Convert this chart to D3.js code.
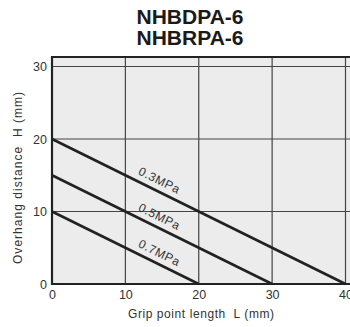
<!DOCTYPE html>
<html><head><meta charset="utf-8">
<script src="https://cdn.jsdelivr.net/npm/d3@7"></script>
<style>body{margin:0;background:#fff}svg{display:block}text{white-space:pre}</style>
</head><body>
<script>
const titles = ["NHBDPA-6", "NHBRPA-6"];
const xTicks = [0, 10, 20, 30, 40];
const yTicks = [0, 10, 20, 30];
const series = [
  {name: "0.3MPa", points: [[0, 20], [40, 0]]},
  {name: "0.5MPa", points: [[0, 15], [30, 0]]},
  {name: "0.7MPa", points: [[0, 10], [20, 0]]}
];
const labelX = 14.0;
const xTitle = "Grip point length  L (mm)";
const yTitle = "Overhang distance  H (mm)";

const W = 350, H = 327;
const svg = d3.select("body").append("svg").attr("width", W).attr("height", H);
const font = "'Liberation Sans', Arial, Helvetica, sans-serif";

const x = d3.scaleLinear().domain([0, 40]).range([52, 345.5]);
const y = d3.scaleLinear().domain([0, 30]).range([284, 66.5]);
const xMax = x.invert(360), yMax = y.invert(57);

// titles
svg.selectAll("text.title").data(titles).enter().append("text")
  .attr("x", 190).attr("y", (d, i) => 24 + i * 21)
  .attr("text-anchor", "middle").attr("font-family", font)
  .attr("font-weight", "bold").attr("font-size", 21).attr("fill", "#1a1a1a")
  .text(d => d);

// background
svg.append("rect").attr("x", x(0)).attr("y", y(yMax))
  .attr("width", x(xMax) - x(0)).attr("height", y(0) - y(yMax)).attr("fill", "#ececec");

// grid
svg.selectAll("line.vg").data(xTicks.filter(d => d > 0)).enter().append("line")
  .attr("x1", d => x(d)).attr("x2", d => x(d)).attr("y1", y(yMax)).attr("y2", y(0))
  .attr("stroke", "#444").attr("stroke-width", 1.2);
svg.selectAll("line.hg").data(yTicks.filter(d => d > 0)).enter().append("line")
  .attr("x1", x(0)).attr("x2", x(xMax)).attr("y1", d => y(d)).attr("y2", d => y(d))
  .attr("stroke", "#444").attr("stroke-width", 1.2);

// border lines
svg.append("line").attr("x1", x(0)).attr("x2", x(xMax)).attr("y1", y(yMax)).attr("y2", y(yMax))
  .attr("stroke", "#222").attr("stroke-width", 2);
svg.append("line").attr("x1", x(0)).attr("x2", x(xMax)).attr("y1", y(0)).attr("y2", y(0))
  .attr("stroke", "#222").attr("stroke-width", 2.2);
svg.append("line").attr("x1", x(0)).attr("x2", x(0)).attr("y1", y(yMax) - 1).attr("y2", y(0) + 1)
  .attr("stroke", "#222").attr("stroke-width", 2.2);

// axes tick labels via d3 axes
const xAxis = svg.append("g").attr("transform", `translate(0,${y(0)})`)
  .call(d3.axisBottom(x).tickValues(xTicks).tickSize(0).tickPadding(6));
const yAxis = svg.append("g").attr("transform", `translate(${x(0)},0)`)
  .call(d3.axisLeft(y).tickValues(yTicks).tickSize(0).tickPadding(5));
[xAxis, yAxis].forEach(g => {
  g.select(".domain").remove();
  g.selectAll("text").attr("font-family", font).attr("font-size", 12.5).attr("fill", "#333");
});

// series lines
const line = d3.line().x(d => x(d[0])).y(d => y(d[1]));
svg.selectAll("path.s").data(series).enter().append("path")
  .attr("d", d => line(d.points)).attr("fill", "none")
  .attr("stroke", "#222").attr("stroke-width", 2.6);

// series labels
series.forEach(s => {
  const [p0, p1] = s.points;
  const t = (labelX - p0[0]) / (p1[0] - p0[0]);
  const vy = p0[1] + t * (p1[1] - p0[1]);
  const ang = Math.atan2(y(p1[1]) - y(p0[1]), x(p1[0]) - x(p0[0])) * 180 / Math.PI;
  const px = x(labelX), py = y(vy);
  svg.append("text")
    .attr("transform", `translate(${px},${py}) rotate(${ang}) translate(0,-6.5)`)
    .attr("text-anchor", "middle").attr("font-family", font).attr("font-size", 12)
    .attr("letter-spacing", 0.6)
    .attr("fill", "#333").text(s.name);
});

// axis titles
svg.append("text").attr("x", 201).attr("y", 318).attr("text-anchor", "middle")
  .attr("font-family", font).attr("font-size", 12)
  .attr("textLength", 146).attr("lengthAdjust", "spacing")
  .attr("fill", "#333").text(xTitle);
svg.append("text").attr("transform", `translate(22,178) rotate(-90)`)
  .attr("text-anchor", "middle").attr("font-family", font).attr("font-size", 12)
  .attr("textLength", 172).attr("lengthAdjust", "spacing")
  .attr("fill", "#333").text(yTitle);
</script>
</body></html>
